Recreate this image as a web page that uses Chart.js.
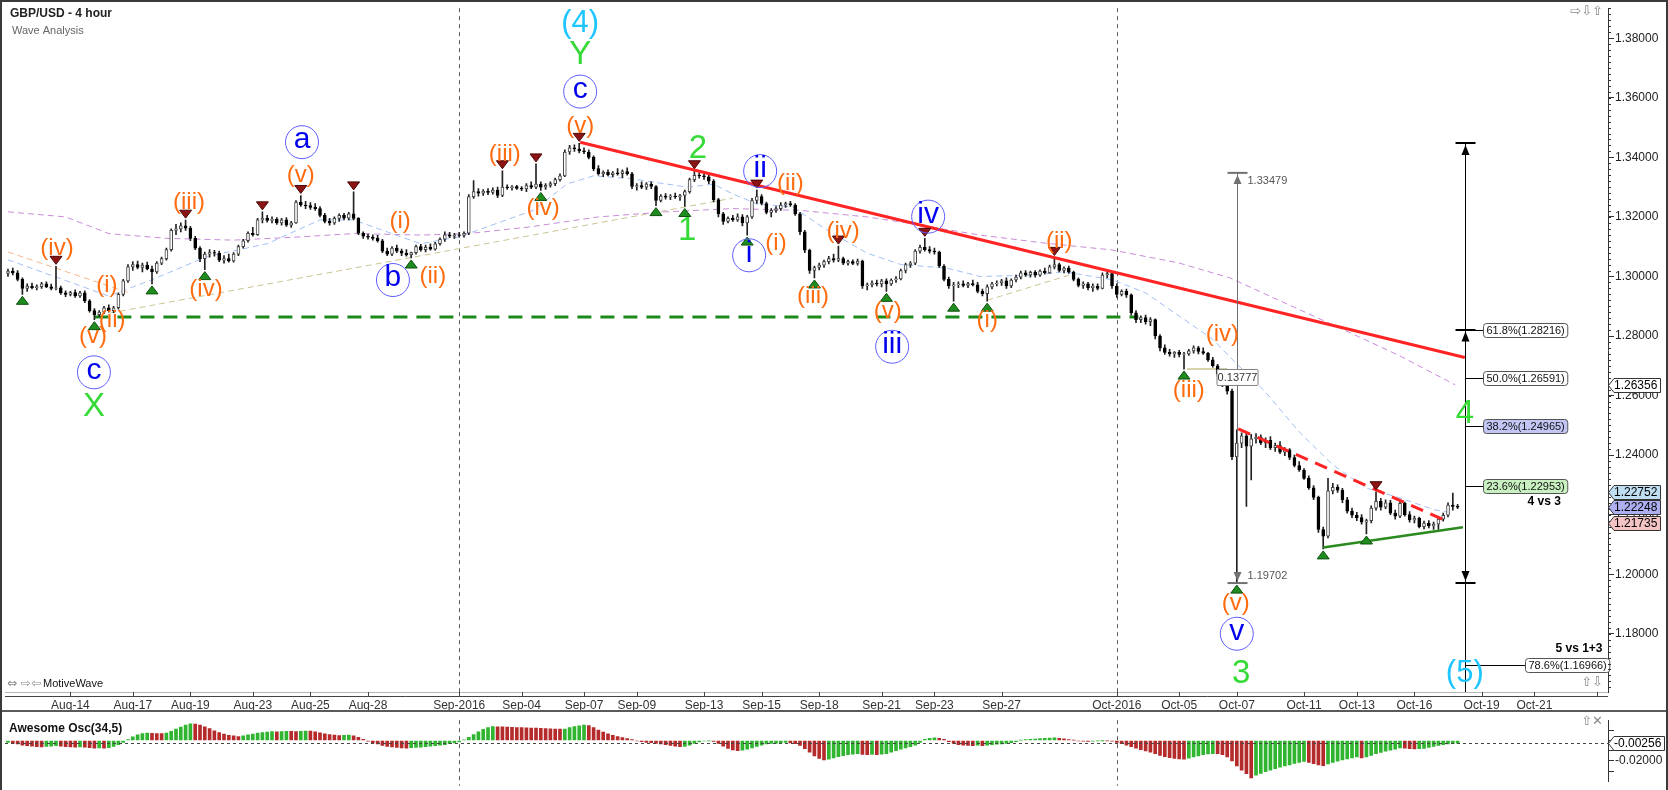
<!DOCTYPE html>
<html>
<head>
<meta charset="utf-8">
<title>GBP/USD - 4 hour</title>
<script src="https://cdn.jsdelivr.net/npm/chart.js@4.4.1/dist/chart.umd.min.js"></script>
<style>
  html, body { margin: 0; padding: 0; background: #fff; }
  #wrap { position: relative; width: 1668px; height: 790px; overflow: hidden; }
  #price { position: absolute; left: 0; top: 0; }
  #osc { position: absolute; left: 0; top: 712px; }
  #sep { position: absolute; left: 0; top: 710px; width: 1668px; height: 2px; background: #5a5a5a; }
  #frame { position: absolute; left: 0; top: 0; width: 1664px; height: 790px; border: 2px solid #3a3a3a; border-bottom: none; pointer-events: none; }
</style>
</head>
<body>
<div id="wrap">
  <canvas id="price" width="1668" height="712"></canvas>
  <canvas id="osc" width="1668" height="78"></canvas>
  <div id="sep"></div>
  <div id="frame"></div>
</div>
<script>
// 4 hour bars, Aug 11 - Oct 18 2016, one entry per bar
var opens = [
  1.3010,1.3018,1.3012,1.2990,1.2960,1.2968,1.2962,1.2966,1.2975,1.2965,
  1.2960,1.2962,1.2945,1.2940,1.2946,1.2935,1.2945,1.2918,1.2885,1.2872,
  1.2880,1.2895,1.2885,1.2895,1.2940,1.2985,1.3032,1.3040,1.3030,1.3038,
  1.3025,1.3015,1.3045,1.3060,1.3090,1.3155,1.3160,1.3170,1.3162,1.3128,
  1.3095,1.3060,1.3075,1.3080,1.3078,1.3055,1.3060,1.3052,1.3075,1.3100,
  1.3120,1.3145,1.3140,1.3190,1.3195,1.3188,1.3192,1.3180,1.3190,1.3172,
  1.3180,1.3250,1.3240,1.3238,1.3232,1.3228,1.3205,1.3185,1.3180,1.3195,
  1.3205,1.3196,1.3210,1.3195,1.3145,1.3135,1.3132,1.3128,1.3120,1.3085,
  1.3075,1.3095,1.3085,1.3078,1.3072,1.3080,1.3100,1.3090,1.3098,1.3092,
  1.3110,1.3125,1.3140,1.3135,1.3140,1.3138,1.3145,1.3268,1.3285,1.3280,
  1.3286,1.3282,1.3290,1.3272,1.3300,1.3298,1.3302,1.3296,1.3294,1.3305,
  1.3300,1.3310,1.3300,1.3306,1.3312,1.3325,1.3338,1.3418,1.3432,1.3428,
  1.3422,1.3418,1.3400,1.3362,1.3345,1.3350,1.3342,1.3348,1.3345,1.3352,
  1.3345,1.3302,1.3305,1.3300,1.3310,1.3302,1.3255,1.3270,1.3266,1.3270,
  1.3268,1.3272,1.3285,1.3325,1.3340,1.3338,1.3335,1.3320,1.3258,1.3210,
  1.3185,1.3195,1.3190,1.3200,1.3180,1.3200,1.3255,1.3268,1.3245,1.3215,
  1.3222,1.3228,1.3240,1.3245,1.3240,1.3210,1.3150,1.3088,1.3020,1.3030,
  1.3038,1.3050,1.3060,1.3055,1.3060,1.3045,1.3050,1.3044,1.3052,1.2968,
  1.2972,1.2978,1.2975,1.2985,1.2975,1.2988,1.2992,1.3020,1.3040,1.3045,
  1.3085,1.3098,1.3090,1.3085,1.3082,1.3035,1.2990,1.2968,1.2972,1.2975,
  1.2970,1.2976,1.2972,1.2950,1.2942,1.2965,1.2975,1.2978,1.2985,1.2968,
  1.2988,1.2998,1.3012,1.3005,1.3014,1.3004,1.3018,1.3012,1.3032,1.3040,
  1.3020,1.3028,1.3015,1.2990,1.2970,1.2975,1.2962,1.2968,1.2960,1.3005,
  1.3010,1.2968,1.2940,1.2950,1.2938,1.2878,1.2855,1.2862,1.2848,1.2855,
  1.2800,1.2760,1.2745,1.2740,1.2745,1.2738,1.2740,1.2750,1.2760,1.2748,
  1.2742,1.2720,1.2700,1.2672,1.2638,1.2615,1.2395,1.2440,1.2465,1.2430,
  1.2455,1.2460,1.2442,1.2450,1.2425,1.2432,1.2410,1.2418,1.2392,1.2365,
  1.2350,1.2322,1.2290,1.2258,1.2150,1.2128,1.2280,1.2292,1.2282,1.2250,
  1.2212,1.2198,1.2190,1.2175,1.2180,1.2222,1.2245,1.2225,1.2240,1.2205,
  1.2195,1.2238,1.2200,1.2182,1.2188,1.2160,1.2172,1.2162,1.2168,1.2185,
  1.2198,1.2232,1.2228
];
var highs = [
  1.3025,1.3028,1.3020,1.2995,1.2975,1.2978,1.2972,1.2980,1.2982,1.2974,
  1.3034,1.2968,1.2952,1.2950,1.2955,1.2950,1.2952,1.2922,1.2892,1.2885,
  1.2900,1.2905,1.2900,1.2945,1.2990,1.3040,1.3050,1.3052,1.3045,1.3048,
  1.3035,1.3050,1.3065,1.3095,1.3160,1.3175,1.3180,1.3189,1.3168,1.3135,
  1.3100,1.3082,1.3090,1.3088,1.3085,1.3070,1.3075,1.3080,1.3105,1.3125,
  1.3150,1.3165,1.3195,1.3217,1.3205,1.3200,1.3198,1.3195,1.3198,1.3185,
  1.3255,1.3272,1.3252,1.3248,1.3245,1.3235,1.3212,1.3195,1.3200,1.3210,
  1.3212,1.3215,1.3284,1.3198,1.3150,1.3142,1.3140,1.3138,1.3125,1.3095,
  1.3100,1.3105,1.3092,1.3090,1.3082,1.3105,1.3108,1.3105,1.3110,1.3115,
  1.3130,1.3150,1.3148,1.3145,1.3148,1.3150,1.3275,1.3322,1.3295,1.3292,
  1.3295,1.3298,1.3300,1.3355,1.3308,1.3305,1.3306,1.3302,1.3312,1.3318,
  1.3378,1.3318,1.3312,1.3318,1.3330,1.3345,1.3425,1.3440,1.3442,1.3447,
  1.3432,1.3425,1.3405,1.3372,1.3355,1.3358,1.3352,1.3362,1.3358,1.3365,
  1.3350,1.3312,1.3318,1.3315,1.3318,1.3305,1.3275,1.3278,1.3275,1.3280,
  1.3276,1.3290,1.3330,1.3355,1.3348,1.3345,1.3342,1.3325,1.3262,1.3215,
  1.3200,1.3205,1.3210,1.3208,1.3205,1.3262,1.3290,1.3275,1.3250,1.3228,
  1.3235,1.3248,1.3250,1.3252,1.3245,1.3215,1.3155,1.3092,1.3035,1.3045,
  1.3055,1.3068,1.3075,1.3102,1.3065,1.3055,1.3056,1.3058,1.3055,1.2978,
  1.2985,1.2988,1.2990,1.2992,1.2992,1.3000,1.3025,1.3045,1.3050,1.3090,
  1.3105,1.3128,1.3100,1.3095,1.3085,1.3040,1.2998,1.2980,1.2982,1.2985,
  1.2980,1.2988,1.2980,1.2958,1.2972,1.2980,1.2985,1.2990,1.2995,1.2992,
  1.3005,1.3018,1.3020,1.3018,1.3020,1.3022,1.3028,1.3038,1.3064,1.3045,
  1.3032,1.3035,1.3018,1.2995,1.2982,1.2980,1.2975,1.2975,1.3012,1.3022,
  1.3015,1.2975,1.2955,1.2958,1.2942,1.2885,1.2868,1.2870,1.2862,1.2858,
  1.2805,1.2770,1.2755,1.2748,1.2752,1.2745,1.2755,1.2767,1.2765,1.2760,
  1.2745,1.2728,1.2705,1.2678,1.2642,1.2622,1.2485,1.2475,1.2478,1.2470,
  1.2472,1.2468,1.2458,1.2462,1.2440,1.2445,1.2425,1.2422,1.2400,1.2378,
  1.2355,1.2330,1.2298,1.2262,1.2158,1.2322,1.2305,1.2300,1.2288,1.2258,
  1.2222,1.2208,1.2200,1.2185,1.2230,1.2277,1.2255,1.2250,1.2248,1.2215,
  1.2245,1.2242,1.2210,1.2195,1.2192,1.2178,1.2180,1.2175,1.2190,1.2205,
  1.2240,1.2272,1.2235
];
var lows = [
  1.3000,1.3005,1.2985,1.2940,1.2950,1.2958,1.2955,1.2960,1.2962,1.2955,
  1.2955,1.2940,1.2932,1.2935,1.2930,1.2930,1.2912,1.2880,1.2855,1.2865,
  1.2875,1.2880,1.2878,1.2890,1.2935,1.2980,1.3020,1.3025,1.3015,1.3022,
  1.2975,1.3010,1.3040,1.3055,1.3085,1.3140,1.3150,1.3155,1.3120,1.3090,
  1.3050,1.3023,1.3065,1.3068,1.3050,1.3045,1.3048,1.3048,1.3070,1.3095,
  1.3115,1.3135,1.3138,1.3180,1.3182,1.3180,1.3175,1.3172,1.3168,1.3165,
  1.3178,1.3235,1.3228,1.3225,1.3222,1.3200,1.3180,1.3172,1.3175,1.3185,
  1.3190,1.3190,1.3190,1.3140,1.3128,1.3125,1.3122,1.3115,1.3080,1.3070,
  1.3070,1.3080,1.3070,1.3068,1.3062,1.3075,1.3085,1.3082,1.3088,1.3088,
  1.3105,1.3118,1.3130,1.3128,1.3132,1.3132,1.3140,1.3262,1.3270,1.3272,
  1.3275,1.3276,1.3265,1.3268,1.3292,1.3290,1.3292,1.3288,1.3285,1.3295,
  1.3295,1.3289,1.3292,1.3300,1.3305,1.3320,1.3335,1.3410,1.3420,1.3415,
  1.3412,1.3395,1.3355,1.3340,1.3335,1.3338,1.3335,1.3340,1.3332,1.3340,
  1.3295,1.3290,1.3295,1.3292,1.3295,1.3238,1.3250,1.3260,1.3258,1.3262,
  1.3255,1.3235,1.3280,1.3318,1.3330,1.3326,1.3312,1.3250,1.3200,1.3175,
  1.3180,1.3185,1.3185,1.3170,1.3139,1.3195,1.3245,1.3240,1.3210,1.3200,
  1.3215,1.3222,1.3232,1.3235,1.3205,1.3140,1.3080,1.3010,1.2995,1.3022,
  1.3030,1.3042,1.3048,1.3050,1.3040,1.3038,1.3040,1.3038,1.2960,1.2955,
  1.2965,1.2968,1.2965,1.2950,1.2970,1.2980,1.2988,1.3012,1.3030,1.3040,
  1.3078,1.3085,1.3078,1.3075,1.3030,1.2985,1.2960,1.2917,1.2962,1.2965,
  1.2962,1.2968,1.2945,1.2935,1.2917,1.2958,1.2968,1.2970,1.2960,1.2962,
  1.2982,1.2992,1.3000,1.2998,1.2998,1.3000,1.3008,1.3010,1.3025,1.3015,
  1.3012,1.3010,1.2985,1.2965,1.2960,1.2955,1.2950,1.2955,1.2958,1.2995,
  1.2960,1.2930,1.2935,1.2930,1.2870,1.2845,1.2845,1.2840,1.2835,1.2790,
  1.2750,1.2738,1.2732,1.2728,1.2730,1.2689,1.2735,1.2742,1.2740,1.2738,
  1.2715,1.2695,1.2665,1.2630,1.2605,1.2385,1.1970,1.2425,1.2228,1.2317,
  1.2440,1.2435,1.2425,1.2418,1.2412,1.2405,1.2398,1.2385,1.2360,1.2345,
  1.2318,1.2285,1.2250,1.2140,1.2085,1.2122,1.2270,1.2275,1.2240,1.2205,
  1.2190,1.2180,1.2168,1.2135,1.2172,1.2215,1.2215,1.2220,1.2200,1.2185,
  1.2190,1.2195,1.2175,1.2172,1.2155,1.2152,1.2155,1.2150,1.2150,1.2178,
  1.2192,1.2215,1.2220
];
var closes = [
  1.3018,1.3012,1.2990,1.2960,1.2968,1.2962,1.2966,1.2975,1.2965,1.2960,
  1.2962,1.2945,1.2940,1.2946,1.2935,1.2945,1.2918,1.2885,1.2872,1.2880,
  1.2895,1.2885,1.2895,1.2940,1.2985,1.3032,1.3040,1.3030,1.3038,1.3025,
  1.3015,1.3045,1.3060,1.3090,1.3155,1.3160,1.3170,1.3162,1.3128,1.3095,
  1.3060,1.3075,1.3080,1.3078,1.3055,1.3060,1.3052,1.3075,1.3100,1.3120,
  1.3145,1.3140,1.3190,1.3195,1.3188,1.3192,1.3180,1.3190,1.3172,1.3180,
  1.3250,1.3240,1.3238,1.3232,1.3228,1.3205,1.3185,1.3180,1.3195,1.3205,
  1.3196,1.3210,1.3195,1.3145,1.3135,1.3132,1.3128,1.3120,1.3085,1.3075,
  1.3095,1.3085,1.3078,1.3072,1.3080,1.3100,1.3090,1.3098,1.3092,1.3110,
  1.3125,1.3140,1.3135,1.3140,1.3138,1.3145,1.3268,1.3285,1.3280,1.3286,
  1.3282,1.3290,1.3272,1.3300,1.3298,1.3302,1.3296,1.3294,1.3305,1.3300,
  1.3310,1.3300,1.3306,1.3312,1.3325,1.3338,1.3418,1.3432,1.3428,1.3422,
  1.3418,1.3400,1.3362,1.3345,1.3350,1.3342,1.3348,1.3345,1.3352,1.3345,
  1.3302,1.3305,1.3300,1.3310,1.3302,1.3255,1.3270,1.3266,1.3270,1.3268,
  1.3272,1.3285,1.3325,1.3340,1.3338,1.3335,1.3320,1.3258,1.3210,1.3185,
  1.3195,1.3190,1.3200,1.3180,1.3200,1.3255,1.3268,1.3245,1.3215,1.3222,
  1.3228,1.3240,1.3245,1.3240,1.3210,1.3150,1.3088,1.3020,1.3030,1.3038,
  1.3050,1.3060,1.3055,1.3060,1.3045,1.3050,1.3044,1.3052,1.2968,1.2972,
  1.2978,1.2975,1.2985,1.2975,1.2988,1.2992,1.3020,1.3040,1.3045,1.3085,
  1.3098,1.3090,1.3085,1.3082,1.3035,1.2990,1.2968,1.2972,1.2975,1.2970,
  1.2976,1.2972,1.2950,1.2942,1.2965,1.2975,1.2978,1.2985,1.2968,1.2988,
  1.2998,1.3012,1.3005,1.3014,1.3004,1.3018,1.3012,1.3032,1.3040,1.3020,
  1.3028,1.3015,1.2990,1.2970,1.2975,1.2962,1.2968,1.2960,1.3005,1.3010,
  1.2968,1.2940,1.2950,1.2938,1.2878,1.2855,1.2862,1.2848,1.2855,1.2800,
  1.2760,1.2745,1.2740,1.2745,1.2738,1.2740,1.2750,1.2760,1.2748,1.2742,
  1.2720,1.2700,1.2672,1.2638,1.2615,1.2395,1.2440,1.2465,1.2430,1.2455,
  1.2460,1.2442,1.2450,1.2425,1.2432,1.2410,1.2418,1.2392,1.2365,1.2350,
  1.2322,1.2290,1.2258,1.2150,1.2128,1.2280,1.2292,1.2282,1.2250,1.2212,
  1.2198,1.2190,1.2175,1.2180,1.2222,1.2245,1.2225,1.2240,1.2205,1.2195,
  1.2238,1.2200,1.2182,1.2188,1.2160,1.2172,1.2162,1.2168,1.2185,1.2198,
  1.2232,1.2228,1.2225
];
// Awesome Oscillator (34,5), one value per bar
var aoValues = [
  -0.0020,-0.0028,-0.0035,-0.0045,-0.0050,-0.0055,-0.0060,-0.0062,-0.0058,-0.0055,
  -0.0052,-0.0055,-0.0060,-0.0062,-0.0065,-0.0063,-0.0066,-0.0070,-0.0075,-0.0072,
  -0.0076,-0.0070,-0.0058,-0.0042,-0.0020,0.0008,0.0035,0.0055,0.0068,0.0072,
  0.0070,0.0068,0.0067,0.0072,0.0090,0.0110,0.0130,0.0150,0.0162,0.0160,
  0.0150,0.0132,0.0115,0.0095,0.0078,0.0062,0.0050,0.0045,0.0038,0.0045,
  0.0055,0.0063,0.0072,0.0078,0.0083,0.0087,0.0085,0.0088,0.0090,0.0089,
  0.0087,0.0090,0.0092,0.0091,0.0085,0.0075,0.0065,0.0058,0.0052,0.0048,
  0.0050,0.0052,0.0046,0.0030,0.0012,-0.0008,-0.0022,-0.0035,-0.0048,-0.0058,
  -0.0064,-0.0068,-0.0072,-0.0075,-0.0070,-0.0068,-0.0066,-0.0060,-0.0055,-0.0050,
  -0.0046,-0.0040,-0.0032,-0.0025,-0.0015,0.0005,0.0030,0.0058,0.0085,0.0108,
  0.0125,0.0135,0.0134,0.0133,0.0131,0.0128,0.0126,0.0125,0.0123,0.0122,
  0.0120,0.0118,0.0116,0.0114,0.0112,0.0110,0.0112,0.0125,0.0136,0.0143,
  0.0150,0.0145,0.0125,0.0102,0.0082,0.0065,0.0050,0.0038,0.0028,0.0018,
  0.0008,-0.0005,-0.0012,-0.0018,-0.0022,-0.0028,-0.0035,-0.0040,-0.0048,-0.0055,
  -0.0060,-0.0058,-0.0045,-0.0030,-0.0015,-0.0005,-0.0003,-0.0010,-0.0030,-0.0055,
  -0.0078,-0.0092,-0.0100,-0.0094,-0.0085,-0.0072,-0.0058,-0.0045,-0.0035,-0.0030,
  -0.0028,-0.0022,-0.0020,-0.0025,-0.0032,-0.0048,-0.0080,-0.0115,-0.0150,-0.0175,
  -0.0190,-0.0182,-0.0170,-0.0158,-0.0148,-0.0140,-0.0134,-0.0130,-0.0136,-0.0138,
  -0.0136,-0.0139,-0.0135,-0.0128,-0.0115,-0.0100,-0.0085,-0.0072,-0.0060,-0.0045,
  -0.0020,0.0010,0.0022,0.0026,0.0020,0.0010,-0.0012,-0.0030,-0.0040,-0.0045,
  -0.0048,-0.0050,-0.0047,-0.0052,-0.0045,-0.0040,-0.0037,-0.0033,-0.0030,-0.0022,
  -0.0012,0.0002,0.0008,0.0012,0.0014,0.0018,0.0020,0.0024,0.0026,0.0022,
  0.0015,0.0008,0.0002,-0.0005,-0.0008,-0.0010,-0.0006,-0.0004,-0.0002,-0.0003,
  -0.0008,-0.0020,-0.0032,-0.0045,-0.0060,-0.0075,-0.0090,-0.0102,-0.0115,-0.0130,
  -0.0145,-0.0158,-0.0168,-0.0175,-0.0180,-0.0182,-0.0172,-0.0160,-0.0150,-0.0140,
  -0.0132,-0.0128,-0.0130,-0.0140,-0.0160,-0.0200,-0.0250,-0.0290,-0.0325,-0.0365,
  -0.0340,-0.0322,-0.0305,-0.0290,-0.0275,-0.0262,-0.0250,-0.0238,-0.0225,-0.0215,
  -0.0206,-0.0215,-0.0228,-0.0240,-0.0246,-0.0230,-0.0215,-0.0202,-0.0190,-0.0180,
  -0.0170,-0.0162,-0.0170,-0.0160,-0.0145,-0.0130,-0.0118,-0.0105,-0.0095,-0.0085,
  -0.0074,-0.0076,-0.0080,-0.0082,-0.0080,-0.0078,-0.0068,-0.0058,-0.0048,-0.0040,
  -0.0033,-0.0028,-0.00256
];

// date axis: bar index where each label sits
var dateTicks = [13, 26, 38, 51, 63, 75, 94, 107, 120, 131, 145, 157, 169, 182, 193, 207, 231, 244, 256, 270, 281, 293, 307, 318, 331];
var dateLabels = ['Aug-14', 'Aug-17', 'Aug-19', 'Aug-23', 'Aug-25', 'Aug-28', 'Sep-2016', 'Sep-04', 'Sep-07', 'Sep-09', 'Sep-13', 'Sep-15', 'Sep-18',
  'Sep-21', 'Sep-23', 'Sep-27', 'Oct-2016', 'Oct-05', 'Oct-07', 'Oct-11', 'Oct-13', 'Oct-16', 'Oct-19', 'Oct-21', ''];
var priceTicks = [1.18, 1.20, 1.22, 1.24, 1.26, 1.28, 1.30, 1.32, 1.34, 1.36, 1.38];
var aoTicks = [0.01, 0, -0.01, -0.02, -0.03];

// moving averages and drawn lines, [bar, price]
var fastMA = [[0,1.3056],[21,1.2934],[30,1.2989],[41.5,1.3067],[54,1.3110],[65,1.3190],[72,1.3190],[81.7,1.3134],[86,1.3110],
  [94,1.3133],[109.4,1.3222],[116.5,1.3311],[122,1.3338],[130,1.3328],[141.5,1.3300],[147,1.3310],[151,1.3277],[156,1.3244],
  [163.5,1.3233],[170.6,1.3156],[179,1.3078],[186,1.3040],[195.6,1.3028],[202.5,1.3000],[213,1.3004],[220,1.3016],[230,1.2989],
  [237,1.2945],[244,1.2867],[251,1.2789],[255,1.2722],[262,1.2611],[269,1.2478],[276,1.2367],[283,1.2289],[290,1.2256],
  [297,1.2217],[301,1.2205]];
var slowMA = [[0,1.3217],[12,1.3200],[21,1.3144],[33,1.3128],[47,1.3122],[61,1.3133],[72,1.3144],[86,1.3139],[96,1.3144],
  [109,1.3167],[123,1.3200],[137,1.3217],[151,1.3228],[165,1.3222],[179,1.3200],[186,1.3183],[202.5,1.3139],[216.5,1.3111],
  [230,1.3089],[244,1.3045],[254.6,1.2995],[261.5,1.2944],[269,1.2889],[279.6,1.2811],[290,1.2733],[301.5,1.2636]];
var peachLine = [[0,1.3082],[25.4,1.2944]];
var tanLine = [[21.25,1.2877],[151,1.3263]];
var tanShort = [[204,1.2920],[221,1.3004]];
var tanFlat = [[245.6,1.2689],[254,1.2689]];
var support = [[18,1.2864],[235.5,1.2864]];
var trendMain = [[119.2,1.3451],[303.5,1.2728]];
var trendUpper = [[256.3,1.2488],[299.8,1.2178]];
var trendLower = [[274,1.2090],[303.1,1.2158]];

// swing markers (bar index)
var markLows = [3, 18, 30, 41, 84, 111, 135, 141, 154, 168, 183, 197, 204, 245, 256, 274, 283];
var markHighs = [10, 37, 53, 61, 72, 103, 110, 119, 143, 156, 173, 191, 218, 285];

// wave labels [bar, price, text]
var orangeWaves = [[10.2,1.3094,'(iv)'],[20.6,1.2971,'(i)'],[21.7,1.2851,'(ii)'],[17.7,1.2798,'(v)'],[37.7,1.3248,'(iii)'],
  [41.25,1.2958,'(iv)'],[61,1.3338,'(v)'],[81.7,1.3184,'(i)'],[88.5,1.3001,'(ii)'],[103.5,1.3411,'(iii)'],[111.5,1.3228,'(iv)'],
  [119.2,1.3504,'(v)'],[163,1.3311,'(ii)'],[160,1.3111,'(i)'],[167.7,1.2934,'(iii)'],[174,1.3151,'(iv)'],[183.3,1.2884,'(v)'],
  [204,1.2851,'(i)'],[219,1.3118,'(ii)'],[246,1.2618,'(iii)'],[253,1.2804,'(iv)'],[255.8,1.1901,'(v)']];
var circleWaves = [[17.9,1.2678,'c'],[61.25,1.3451,'a'],[80.2,1.2988,'b'],[119.2,1.3621,'c'],[156.7,1.3354,'ii'],
  [154.4,1.3071,'i'],[184.2,1.2764,'iii'],[191.7,1.3201,'iv'],[256,1.1800,'v']];
var greenWaves = [[17.9,1.2561,'X'],[119.2,1.3744,'Y'],[143.75,1.3428,'2'],[141.5,1.3154,'1'],[256.9,1.1664,'3'],[303.5,1.2538,'4']];
var cyanWaves = [[119.2,1.3851,'(4)'],[303.5,1.1668,'(5)']];

// measurement and fibonacci projection
var measureBar = 256, measureTop = 1.33479, measureBottom = 1.19702;
var fibBar = 303.5, fibTop = 1.3448;
var fibCaps = [1.3448, 1.28216, 1.19702];
var fibLevels = [[1.28216,'61.8%(1.28216)','#ffffff'],[1.26591,'50.0%(1.26591)','#ffffff'],
  [1.24965,'38.2%(1.24965)','#c3c6f4'],[1.22953,'23.6%(1.22953)','#c9f0c0']];
var fibExt = [1.16966,'78.6%(1.16966)'];
var priceTags = [[1.26356,'#ffffff'],[1.22752,'#c0def2'],[1.21735,'#f4c4c4'],[1.22248,'#adaff0']];

var xMin = -0.625, xMax = 333.33;
var yMin = 1.16043, yMax = 1.3901;
var aoMin = -0.0404, aoMax = 0.0198;
var FONT = '"Liberation Sans", Arial, sans-serif';
var monthStarts = dateTicks.filter(function (t, k) { return /2016$/.test(dateLabels[k]); });

Chart.defaults.font.family = FONT;
Chart.defaults.font.size = 12;
Chart.defaults.color = '#222';
Chart.defaults.animation = false;

function seg(ctx, x1, y1, x2, y2) { ctx.beginPath(); ctx.moveTo(x1, y1); ctx.lineTo(x2, y2); ctx.stroke(); }
function tri(ctx, cx, tip, dir, w, h, fill, stroke) {
  ctx.beginPath(); ctx.moveTo(cx, tip); ctx.lineTo(cx - w, tip + h * dir); ctx.lineTo(cx + w, tip + h * dir); ctx.closePath();
  ctx.fillStyle = fill; ctx.fill();
  if (stroke) { ctx.strokeStyle = stroke; ctx.lineWidth = 1; ctx.stroke(); }
}
function txt(ctx, s, x, y, font, color, align) {
  ctx.font = font; ctx.fillStyle = color; ctx.textAlign = align || 'center'; ctx.textBaseline = 'middle'; ctx.fillText(s, x, y);
}
function rbox(ctx, x, y, w, h, r, fill, stroke) {
  ctx.beginPath();
  ctx.moveTo(x + r, y); ctx.lineTo(x + w - r, y); ctx.quadraticCurveTo(x + w, y, x + w, y + r);
  ctx.lineTo(x + w, y + h - r); ctx.quadraticCurveTo(x + w, y + h, x + w - r, y + h);
  ctx.lineTo(x + r, y + h); ctx.quadraticCurveTo(x, y + h, x, y + h - r);
  ctx.lineTo(x, y + r); ctx.quadraticCurveTo(x, y, x + r, y); ctx.closePath();
  ctx.fillStyle = fill; ctx.fill(); ctx.strokeStyle = stroke; ctx.lineWidth = 1; ctx.stroke();
}
function tag(ctx, left, yp, s, fill) {
  ctx.font = '12px ' + FONT;
  var right = Math.round(left + 6 + ctx.measureText(s).width + 3) + 0.5;
  ctx.beginPath();
  ctx.moveTo(left + 0.5, yp); ctx.lineTo(left + 6, yp - 7); ctx.lineTo(right, yp - 7);
  ctx.lineTo(right, yp + 7); ctx.lineTo(left + 6, yp + 7); ctx.closePath();
  ctx.fillStyle = fill; ctx.fill(); ctx.strokeStyle = '#333'; ctx.lineWidth = 1; ctx.stroke();
  txt(ctx, s, left + 6, yp + 0.5, '12px ' + FONT, '#000', 'left');
}
function monthLines(chart) {
  var ctx = chart.ctx, a = chart.chartArea, x = chart.scales.x;
  ctx.save();
  ctx.strokeStyle = '#5a5a5a'; ctx.lineWidth = 1; ctx.setLineDash([4, 4]);
  monthStarts.forEach(function (i) {
    var p = Math.round(x.getPixelForValue(i)) + 0.5;
    seg(ctx, p, a.top, p, a.bottom + 4);
  });
  ctx.restore();
}

var pricePlugin = {
  id: 'waveMarks',
  beforeDatasetsDraw: monthLines,
  afterDatasetsDraw: function (chart) {
    var ctx = chart.ctx, a = chart.chartArea, sx = chart.scales.x, sy = chart.scales.y;
    var px = function (v) { return sx.getPixelForValue(v); };
    var py = function (v) { return sy.getPixelForValue(v); };
    ctx.save();

    markLows.forEach(function (i) { tri(ctx, px(i), py(lows[i]) + 2, 1, 6, 8, '#1e8c1e', '#0d4f0d'); });
    markHighs.forEach(function (i) { tri(ctx, px(i), py(highs[i]) - 2, -1, 6, 8, '#8c1414', '#4a0808'); });

    // measuring tool
    var mx = Math.round(px(measureBar)) + 0.5, m1 = py(measureTop), m2 = py(measureBottom);
    ctx.strokeStyle = '#707070'; ctx.lineWidth = 1;
    seg(ctx, mx, m1, mx, m2);
    ctx.lineWidth = 2;
    seg(ctx, mx - 10, m1, mx + 10, m1);
    seg(ctx, mx - 10, m2, mx + 10, m2);
    tri(ctx, mx, m1 + 2, 1, 4, 9, '#707070');
    tri(ctx, mx, m2 - 2, -1, 4, 9, '#707070');
    txt(ctx, measureTop.toFixed(5), mx + 10, m1 + 8, '11px ' + FONT, '#555', 'left');
    txt(ctx, measureBottom.toFixed(5), mx + 10, m2 - 7, '11px ' + FONT, '#555', 'left');
    var diff = (measureTop - measureBottom).toFixed(5);
    rbox(ctx, mx - 20.5, (m1 + m2) / 2 - 8.5, 41, 16, 1, '#ffffff', '#808080');
    txt(ctx, diff, mx, (m1 + m2) / 2, '11px ' + FONT, '#333');

    // fibonacci projection
    var fx = Math.round(px(fibBar)) + 0.5;
    ctx.strokeStyle = '#000'; ctx.lineWidth = 1;
    seg(ctx, fx, py(fibTop), fx, a.bottom);
    ctx.lineWidth = 2;
    fibCaps.forEach(function (c) { seg(ctx, fx - 10, Math.round(py(c)), fx + 10, Math.round(py(c))); });
    tri(ctx, fx, py(fibCaps[0]) + 2, 1, 4, 10, '#000');
    tri(ctx, fx, py(fibCaps[1]) + 2, 1, 4, 10, '#000');
    tri(ctx, fx, py(fibCaps[2]) - 2, -1, 4, 10, '#000');
    ctx.lineWidth = 1;
    fibLevels.forEach(function (l) {
      var yy = Math.round(py(l[0])) + 0.5;
      ctx.strokeStyle = '#000';
      seg(ctx, fx, yy, fx + 18, yy);
      ctx.font = '11px ' + FONT;
      var w = ctx.measureText(l[1]).width + 6;
      rbox(ctx, fx + 18, yy - 7, w, 14, 3, l[2], '#555');
      txt(ctx, l[1], fx + 18 + w / 2, yy + 0.5, '11px ' + FONT, '#111');
    });
    var ey = Math.round(py(fibExt[0])) + 0.5;
    ctx.strokeStyle = '#000';
    seg(ctx, fx, ey, fx + 60, ey);
    ctx.font = '11px ' + FONT;
    var ew = ctx.measureText(fibExt[1]).width + 6;
    rbox(ctx, fx + 60, ey - 7, ew, 14, 3, '#ffffff', '#555');
    txt(ctx, fibExt[1], fx + 60 + ew / 2, ey + 0.5, '11px ' + FONT, '#111');
    txt(ctx, '4 vs 3', fx + 62, py(fibLevels[3][0]) + 15, 'bold 12px ' + FONT, '#000', 'left');
    txt(ctx, '5 vs 1+3', fx + 90, ey - 17, 'bold 12px ' + FONT, '#000', 'left');

    // wave labels
    orangeWaves.forEach(function (w) { txt(ctx, w[2], px(w[0]), py(w[1]), '24px ' + FONT, '#ff6c10'); });
    circleWaves.forEach(function (w) {
      var cx = px(w[0]), cy = py(w[1]);
      ctx.beginPath(); ctx.arc(cx, cy, 16.5, 0, Math.PI * 2);
      ctx.strokeStyle = '#5c5cff'; ctx.lineWidth = 1; ctx.stroke();
      txt(ctx, w[2], cx, cy - 2, '30px ' + FONT, '#0000ee');
    });
    greenWaves.forEach(function (w) { txt(ctx, w[2], px(w[0]), py(w[1]), '33px ' + FONT, '#36da36'); });
    cyanWaves.forEach(function (w) { txt(ctx, w[2], px(w[0]), py(w[1]), '31px ' + FONT, '#1ec5ff'); });
    ctx.restore();
  },
  afterDraw: function (chart) {
    var ctx = chart.ctx, a = chart.chartArea, sx = chart.scales.x, sy = chart.scales.y;
    ctx.save();
    txt(ctx, 'GBP/USD - 4 hour', 10, 14, 'bold 12px ' + FONT, '#222', 'left');
    txt(ctx, 'Wave Analysis', 12, 31, '11px ' + FONT, '#666', 'left');
    txt(ctx, '\u21E8\u21E9\u21E7', 1603, 12, '13px "DejaVu Sans"', '#8a8a8a', 'right');
    txt(ctx, '\u21E7\u21E9', 1603, 683, '13px "DejaVu Sans"', '#8a8a8a', 'right');
    txt(ctx, '\u21D4 \u21E8\u21E6', 7, 684, '12px "DejaVu Sans"', '#8a8a8a', 'left');
    txt(ctx, 'MotiveWave', 43, 684, '11px ' + FONT, '#111', 'left');

    // date axis frame
    ctx.lineWidth = 1;
    ctx.strokeStyle = '#b5b5b5';
    seg(ctx, a.left, a.bottom + 0.5, a.right, a.bottom + 0.5);
    ctx.strokeStyle = '#444';
    seg(ctx, a.left, a.bottom + 4.5, a.right, a.bottom + 4.5);
    dateTicks.forEach(function (t) {
      var p = Math.round(sx.getPixelForValue(t)) + 0.5;
      seg(ctx, p, a.bottom, p, a.bottom + 5);
    });

    // minor price ticks
    ctx.strokeStyle = '#333';
    for (var k = 0; k < 120; k++) {
      var v = 1.162 + k * 0.002;
      if (v > yMax) break;
      var yy = Math.round(sy.getPixelForValue(v)) + 0.5;
      seg(ctx, a.right, yy, a.right + 3, yy);
    }
    priceTags.forEach(function (t) { tag(ctx, a.right, Math.round(sy.getPixelForValue(t[0])) + 0.5, t[0].toFixed(5), t[1]); });
    ctx.restore();
  }
};

var bars = closes.map(function (c, i) { return i; });
var isUp = function (i) { return closes[i] >= opens[i]; };
var pts = function (arr) { return arr.map(function (p) { return { x: p[0], y: p[1] }; }); };
var lineSet = function (arr, color, width, dash, order) {
  return { type: 'line', data: pts(arr), borderColor: color, borderWidth: width, borderDash: dash, pointRadius: 0, order: order };
};

new Chart(document.getElementById('price'), {
  type: 'bar',
  data: {
    datasets: [
      lineSet(trendMain, '#ff2424', 3, [], 0),
      lineSet(trendUpper, '#ff2424', 3, [13, 8], 0),
      lineSet(trendLower, '#2a8a1e', 2.5, [], 0),
      {
        type: 'bar', order: 1, grouped: false, barThickness: 3, borderWidth: 1, borderSkipped: false,
        data: bars.map(function (i) { return { x: i, y: [opens[i], closes[i]] }; }),
        backgroundColor: function (c) { return isUp(c.dataIndex) ? '#ffffff' : '#000000'; },
        borderColor: function (c) { return isUp(c.dataIndex) ? '#444444' : '#000000'; }
      },
      {
        type: 'bar', order: 2, grouped: false, barThickness: 1, borderWidth: 0, backgroundColor: '#222',
        data: bars.map(function (i) { return { x: i, y: [lows[i], highs[i]] }; })
      },
      lineSet(support, '#1a8a1a', 3, [14, 9], 3),
      lineSet(fastMA, '#a3bff4', 1, [6, 4], 4),
      lineSet(slowMA, '#c98cd9', 1, [6, 4], 4),
      lineSet(tanLine, '#cbc492', 1, [6, 4], 4),
      lineSet(tanShort, '#cbc492', 1, [6, 4], 4),
      lineSet(tanFlat, '#cbc492', 1.5, [], 4),
      lineSet(peachLine, '#f6b68c', 1, [6, 4], 4)
    ]
  },
  options: {
    responsive: false, devicePixelRatio: 1, animation: false,
    layout: { padding: { left: 5, top: 3, right: 0, bottom: 0 } },
    plugins: { legend: { display: false }, tooltip: { enabled: false } },
    scales: {
      x: {
        type: 'linear', min: xMin, max: xMax, offset: false,
        grid: { display: false, drawTicks: false, tickLength: 0 }, border: { display: false },
        afterBuildTicks: function (ax) { ax.ticks = dateTicks.map(function (v) { return { value: v }; }); },
        ticks: { autoSkip: false, maxRotation: 0, padding: 6, color: '#333', callback: function (v, k) { return dateLabels[k]; } },
        afterFit: function (ax) { ax.height = 20; }
      },
      y: {
        position: 'right', min: yMin, max: yMax,
        grid: { drawOnChartArea: false, tickLength: 6, color: '#333' },
        border: { display: true, color: '#333' },
        afterBuildTicks: function (ax) { ax.ticks = priceTicks.map(function (v) { return { value: v }; }); },
        ticks: { autoSkip: false, padding: 1, color: '#222', callback: function (v) { return v.toFixed(5); } },
        afterFit: function (ax) { ax.width = 60; }
      }
    }
  },
  plugins: [pricePlugin]
});

var oscPlugin = {
  id: 'oscMarks',
  beforeDatasetsDraw: monthLines,
  afterDatasetsDraw: function (chart) {
    var ctx = chart.ctx, a = chart.chartArea, sy = chart.scales.y;
    var last = aoValues[aoValues.length - 1];
    var yy = Math.round(sy.getPixelForValue(last)) + 0.5;
    ctx.save();
    ctx.strokeStyle = '#444'; ctx.lineWidth = 1; ctx.setLineDash([3, 3]);
    seg(ctx, a.left, yy, a.right, yy);
    ctx.restore();
  },
  afterDraw: function (chart) {
    var ctx = chart.ctx, a = chart.chartArea, sy = chart.scales.y;
    var last = aoValues[aoValues.length - 1];
    ctx.save();
    txt(ctx, 'Awesome Osc(34,5)', 9, 17, 'bold 12px ' + FONT, '#111', 'left');
    txt(ctx, '\u21E7\u2715', 1603, 10, '13px "DejaVu Sans"', '#8a8a8a', 'right');
    tag(ctx, a.right, Math.round(sy.getPixelForValue(last)) + 0.5, last.toFixed(5), '#ffffff');
    ctx.restore();
  }
};

new Chart(document.getElementById('osc'), {
  type: 'bar',
  data: {
    datasets: [{
      data: aoValues.map(function (v, i) { return { x: i, y: v }; }),
      barThickness: 3, borderWidth: 0,
      backgroundColor: function (c) {
        var i = c.dataIndex;
        return (i > 0 && aoValues[i] > aoValues[i - 1]) || (i === 0) ? '#30b530' : '#b52b2b';
      }
    }]
  },
  options: {
    responsive: false, devicePixelRatio: 1, animation: false,
    layout: { padding: { left: 5, top: 1, right: 0, bottom: 1 } },
    plugins: { legend: { display: false }, tooltip: { enabled: false } },
    scales: {
      x: { type: 'linear', min: xMin, max: xMax, offset: false, display: false },
      y: {
        position: 'right', min: aoMin, max: aoMax,
        grid: { drawOnChartArea: false, tickLength: 6, color: '#333' },
        border: { display: true, color: '#333' },
        afterBuildTicks: function (ax) { ax.ticks = aoTicks.map(function (v) { return { value: v }; }); },
        ticks: { autoSkip: false, padding: 1, color: '#222', callback: function (v) { return Math.abs(v + 0.02) < 1e-9 ? '-0.02000' : ''; } },
        afterFit: function (ax) { ax.width = 60; }
      }
    }
  },
  plugins: [oscPlugin]
});
</script>
</body>
</html>
